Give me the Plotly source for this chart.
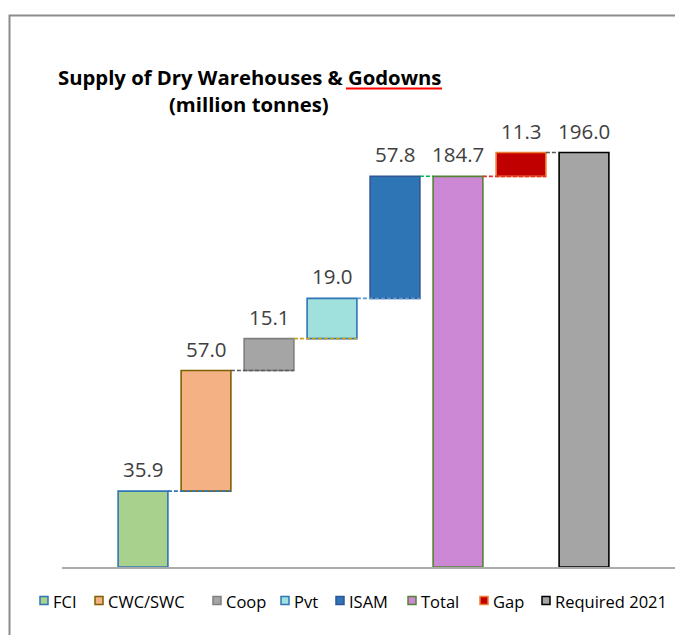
import plotly.graph_objects as go

# ---- data -------------------------------------------------------------
categories = ["FCI", "CWC/SWC", "Coop", "Pvt", "ISAM", "Total", "Gap", "Required 2021"]
increments = [35.9, 57.0, 15.1, 19.0, 57.8]   # FCI .. ISAM
total_supply = 184.7
gap_value = 11.3
required_2021 = 196.0

fill_colors = ["#A9D18E", "#F4B183", "#A5A5A5", "#A0E1DD", "#2E75B6",
               "#CC88D4", "#C00000", "#A5A5A5"]
edge_colors = ["#2E75B6", "#7F6000", "#7F7F7F", "#2E75B6", "#2F5597",
               "#548235", "#ED7D31", "#000000"]
connector_colors = ["#2E75B6", "#595959", "#C9A11B", "#5B9BD5",
                    "#00B050", "#E03030", "#595959"]

# ---- bar geometry (bases and heights) --------------------------------
bases, heights = [], []
running = 0.0
for v in increments:
    bases.append(running)
    heights.append(v)
    running += v
bases += [0.0, total_supply, 0.0]
heights += [total_supply, gap_value, required_2021]
tops = [b + h for b, h in zip(bases, heights)]
xpos = list(range(len(categories)))
BW = 0.79
half = BW / 2

fig = go.Figure()

# dashed connectors between consecutive bars
segments = []
for i in range(1, len(increments)):
    segments.append((xpos[i - 1] + half, xpos[i] + half, bases[i]))
segments.append((xpos[4] + half, xpos[5] - half, tops[4]))          # ISAM -> Total
segments.append((xpos[5] + half, xpos[6] + half, bases[6]))          # Total -> Gap
segments.append((xpos[6] + half, xpos[7] - half, tops[6]))           # Gap -> Required
for (xa, xb, yv), col in zip(segments, connector_colors):
    fig.add_trace(go.Scatter(
        x=[xa, xb], y=[yv, yv], mode="lines",
        line=dict(color=col, width=1.6, dash="4px,2px"),
        hoverinfo="skip", showlegend=False))

fig.add_trace(go.Bar(
    x=xpos, y=heights, base=bases, width=BW,
    marker=dict(color=fill_colors, line=dict(color=edge_colors, width=1.6)),
    hovertext=categories, showlegend=False))

# value labels above bars
label_values = increments + [total_supply, gap_value, required_2021]
for x, top, v in zip(xpos, tops, label_values):
    fig.add_annotation(x=x, y=top, text=f"{v:.1f}", showarrow=False,
                       xanchor="center", yanchor="bottom", yshift=6,
                       font=dict(family="Open Sans", size=20.5, color="#404040"))

# ---- layout helpers (pixel -> paper) ---------------------------------
W, H = 675, 635
ML, MR, MT, MB = 62, 0, 120, 68
PW, PH = W - ML - MR, H - MT - MB


def px(xp):
    return (xp - ML) / PW


def py(yp):
    return (H - MB - yp) / PH


# title
fig.add_annotation(xref="paper", yref="paper", x=px(249.5), y=py(77),
                   text="<b>Supply of Dry Warehouses & Godowns</b>",
                   showarrow=False, xanchor="center", yanchor="middle",
                   font=dict(family="Open Sans", size=20.3, color="#000000"))
fig.add_annotation(xref="paper", yref="paper", x=px(249), y=py(104),
                   text="<b>(million tonnes)</b>",
                   showarrow=False, xanchor="center", yanchor="middle",
                   font=dict(family="Open Sans", size=20.3, color="#000000"))
fig.add_shape(type="line", xref="paper", yref="paper",
              x0=px(346), x1=px(442), y0=py(88.5), y1=py(88.5),
              line=dict(color="#FF0000", width=2))

# outer frame
fig.add_shape(type="rect", xref="paper", yref="paper",
              x0=px(9.5), x1=px(W + 20), y0=py(H + 20), y1=py(15.5),
              line=dict(color="#8C8C8C", width=2), fillcolor="rgba(0,0,0,0)")

# legend
legend_marker_x = [40, 95, 213, 281, 336, 408, 480, 542]
for name, fc, ec, mx in zip(categories, fill_colors, edge_colors, legend_marker_x):
    fig.add_shape(type="rect", xref="paper", yref="paper",
                  x0=px(mx), x1=px(mx + 8), y0=py(604.5), y1=py(596.5),
                  line=dict(color=ec, width=1.5), fillcolor=fc)
    fig.add_annotation(xref="paper", yref="paper", x=px(mx + 11), y=py(601),
                       text=name, showarrow=False, xanchor="left", yanchor="middle",
                       font=dict(family="Open Sans", size=16.5, color="#000000"))

fig.update_layout(
    width=W, height=H,
    margin=dict(l=ML, r=MR, t=MT, b=MB, pad=0),
    paper_bgcolor="white", plot_bgcolor="white",
    bargap=0.2,
    showlegend=False,
    xaxis=dict(range=[-81 / 63, (PW - 81) / 63], showticklabels=False,
               showgrid=False, zeroline=False, ticks="",
               showline=True, linecolor="#ABABAB", linewidth=2),
    yaxis=dict(range=[0, PH / ((567 - 152.5) / 196.0)], visible=False,
               showgrid=False, zeroline=False),
)

fig.write_html("out.html")
